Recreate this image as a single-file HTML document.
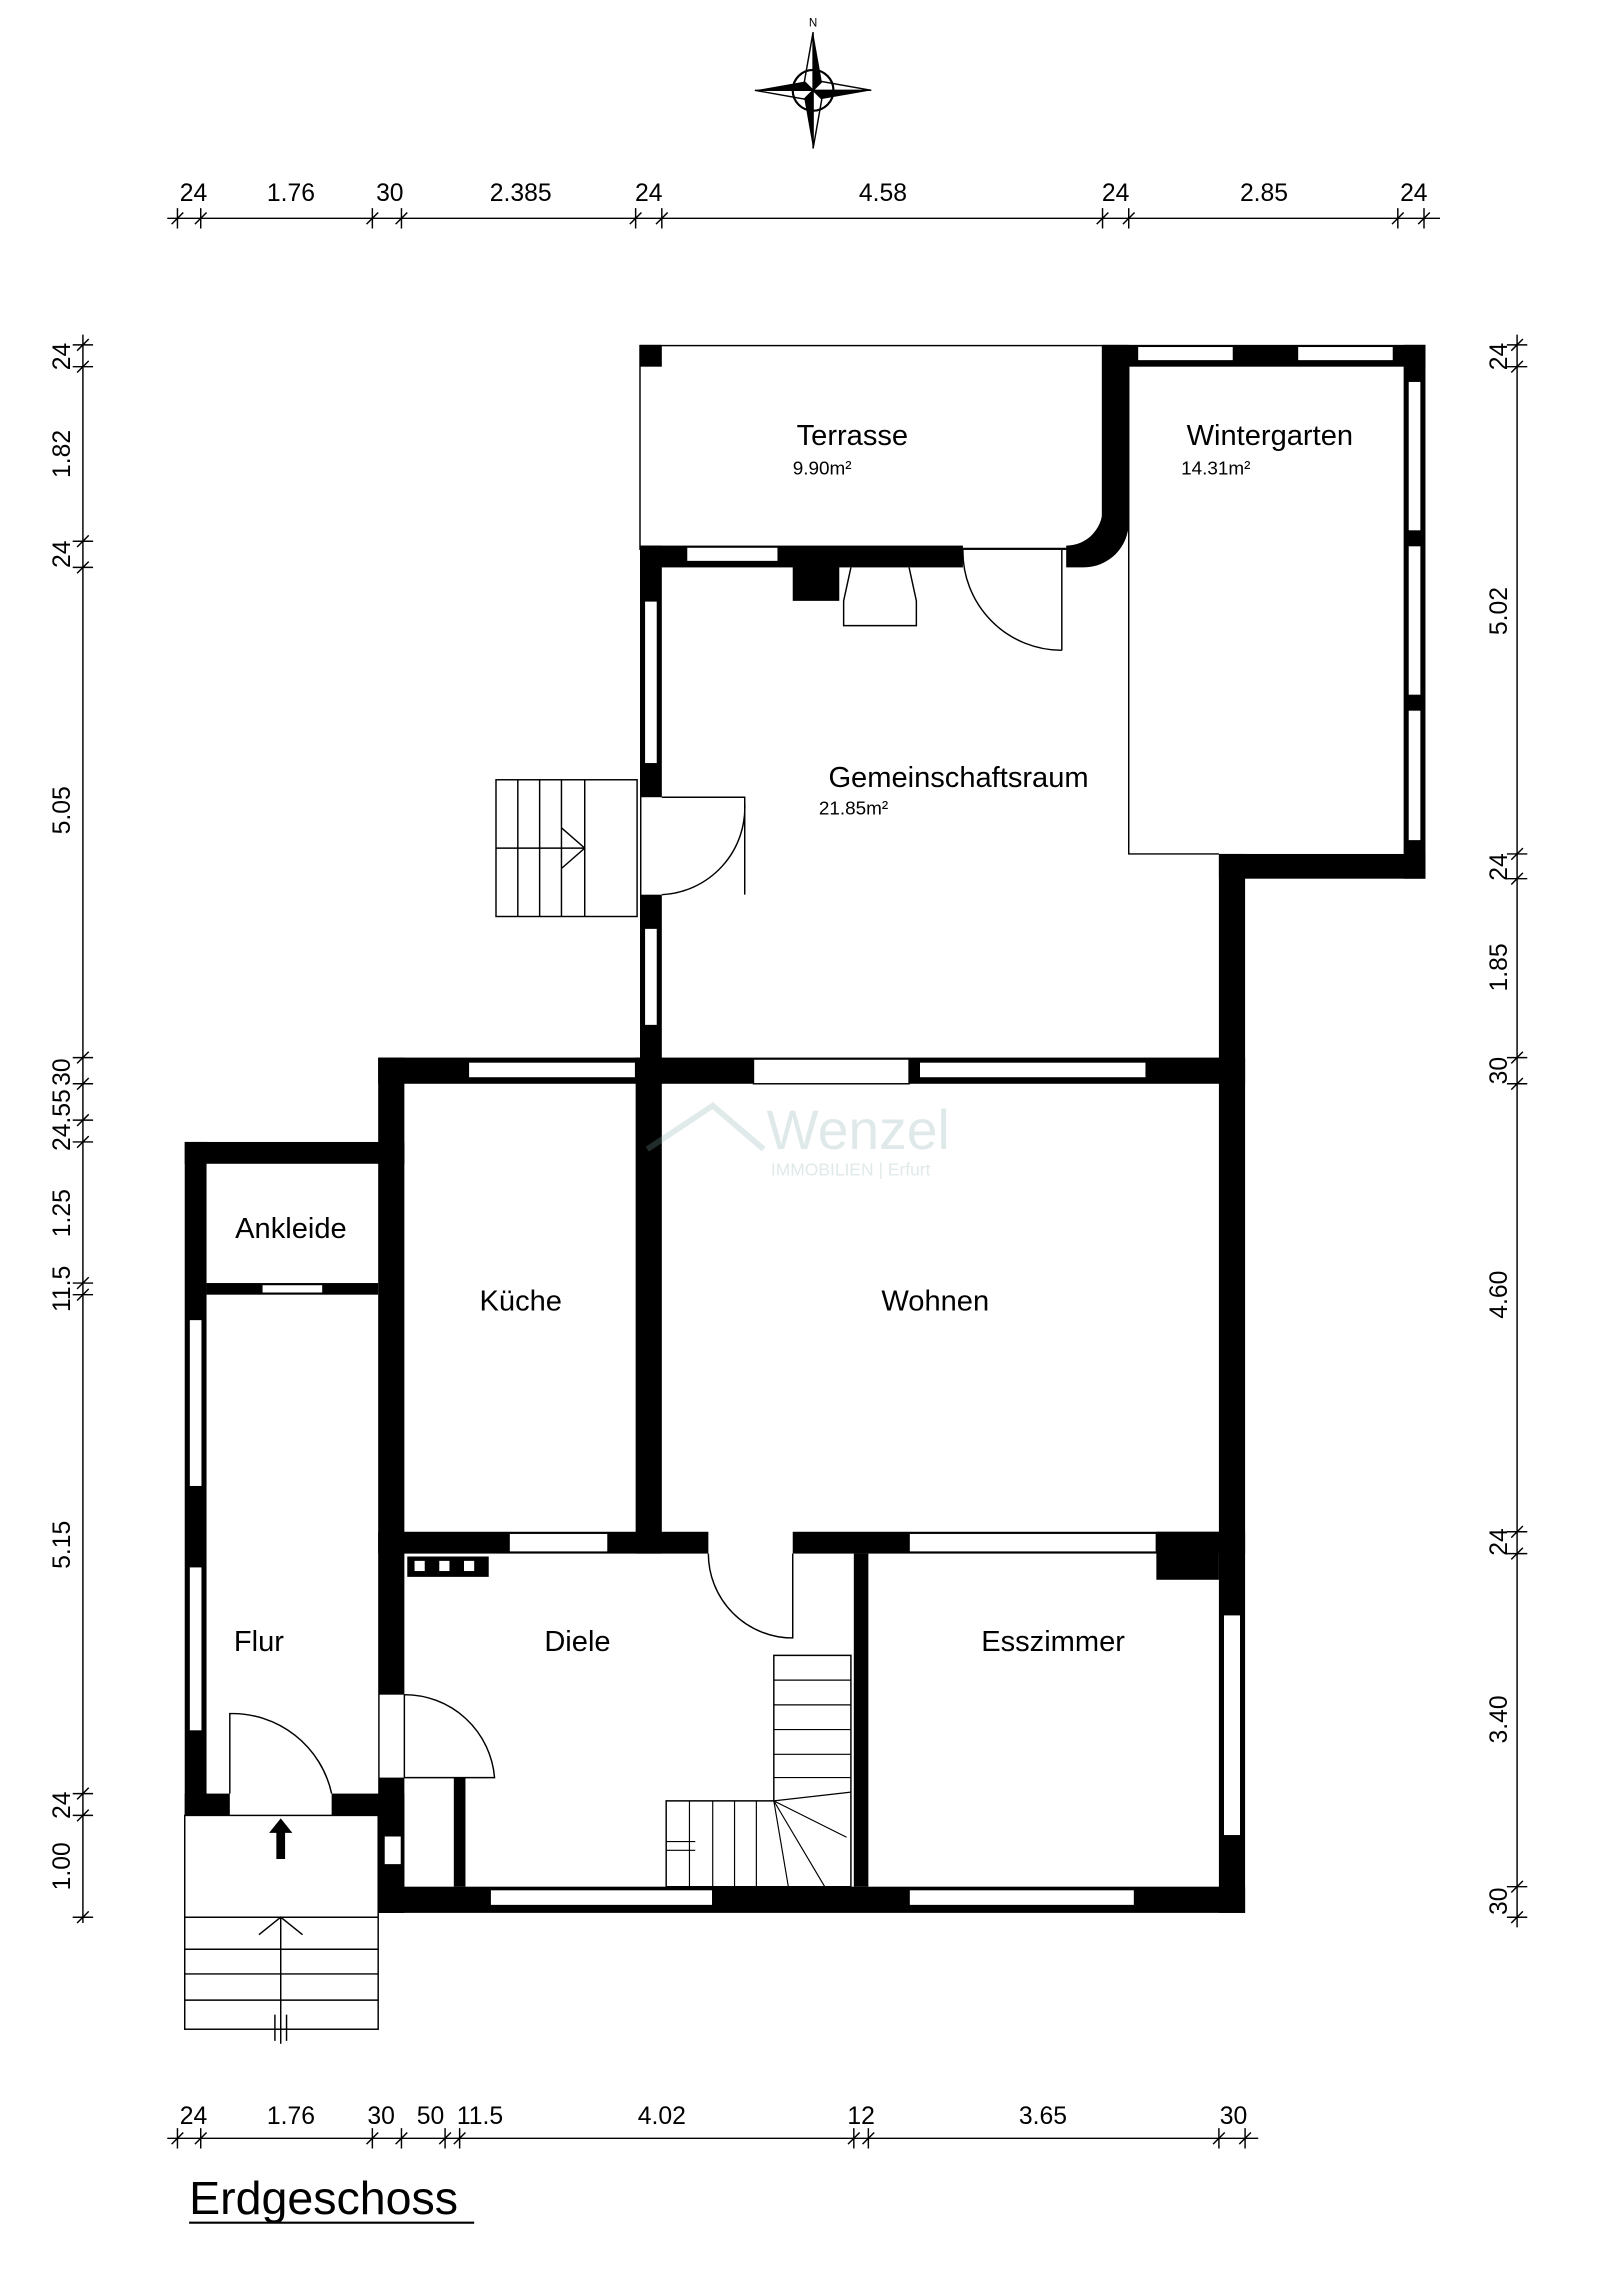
<!DOCTYPE html>
<html><head><meta charset="utf-8"><style>html,body{margin:0;padding:0;background:#fff}svg{display:block}</style></head>
<body>
<svg width="1600" height="2281" viewBox="0 0 1100 1568" xmlns="http://www.w3.org/2000/svg" font-family="Liberation Sans, sans-serif">
<rect width="1100" height="1568" fill="#fff"/>
<g transform="translate(559,62)">
<polygon points="0,-40 6,-6 0,0" fill="#000"/><polygon points="0,-40 -6,-6 0,0" fill="#fff" stroke="#000"/>
<polygon points="0,40 -6,6 0,0" fill="#000"/><polygon points="0,40 6,6 0,0" fill="#fff" stroke="#000"/>
<polygon points="40,0 6,6 0,0" fill="#000"/><polygon points="40,0 6,-6 0,0" fill="#fff" stroke="#000"/>
<polygon points="-40,0 -6,-6 0,0" fill="#000"/><polygon points="-40,0 -6,6 0,0" fill="#fff" stroke="#000"/>
<circle r="14" fill="none" stroke="#000" stroke-width="1.5"/>
<text x="0" y="-44" font-size="8" text-anchor="middle">N</text>
</g>
<g stroke="#000" stroke-width="1" fill="none">
<line x1="115" y1="150" x2="990" y2="150"/>
<path d="M122,143v14M138,143v14M256,143v14M276,143v14M437,143v14M455,143v14M758,143v14M776,143v14M961,143v14M979,143v14"/>
<path d="M118,154l8,-8M134,154l8,-8M252,154l8,-8M272,154l8,-8M433,154l8,-8M451,154l8,-8M754,154l8,-8M772,154l8,-8M957,154l8,-8M975,154l8,-8"/>
<line x1="115" y1="1470" x2="865" y2="1470"/>
<path d="M122,1463v14M138,1463v14M256,1463v14M276,1463v14M306,1463v14M316,1463v14M587,1463v14M597,1463v14M838,1463v14M856,1463v14"/>
<path d="M118,1474l8,-8M134,1474l8,-8M252,1474l8,-8M272,1474l8,-8M302,1474l8,-8M312,1474l8,-8M583,1474l8,-8M593,1474l8,-8M834,1474l8,-8M852,1474l8,-8"/>
<line x1="57" y1="230" x2="57" y2="1322"/>
<path d="M50,237h14M50,252h14M50,372h14M50,390h14M50,727h14M50,745h14M50,770h14M50,785h14M50,882h14M50,890h14M50,1233h14M50,1248h14M50,1318h14"/>
<path d="M53,241l8,-8M53,256l8,-8M53,376l8,-8M53,394l8,-8M53,731l8,-8M53,749l8,-8M53,774l8,-8M53,789l8,-8M53,886l8,-8M53,894l8,-8M53,1237l8,-8M53,1252l8,-8M53,1322l8,-8"/>
<line x1="1043" y1="230" x2="1043" y2="1325"/>
<path d="M1036,237h14M1036,252h14M1036,587h14M1036,604h14M1036,727h14M1036,745h14M1036,1053h14M1036,1068h14M1036,1297h14M1036,1318h14"/>
<path d="M1039,241l8,-8M1039,256l8,-8M1039,591l8,-8M1039,608l8,-8M1039,731l8,-8M1039,749l8,-8M1039,1057l8,-8M1039,1072l8,-8M1039,1301l8,-8M1039,1322l8,-8"/>
</g>
<g font-size="17" text-anchor="middle">
<text x="133" y="138">24</text><text x="200" y="138">1.76</text><text x="268" y="138">30</text><text x="358" y="138">2.385</text><text x="446" y="138">24</text><text x="607" y="138">4.58</text><text x="767" y="138">24</text><text x="869" y="138">2.85</text><text x="972" y="138">24</text>
<text x="133" y="1460">24</text><text x="200" y="1460">1.76</text><text x="262" y="1460">30</text><text x="296" y="1460">50</text><text x="330" y="1460">11.5</text><text x="455" y="1460">4.02</text><text x="592" y="1460">12</text><text x="717" y="1460">3.65</text><text x="848" y="1460">30</text>
</g>
<g font-size="17" text-anchor="middle">
<g transform="rotate(-90)">
<text x="-245" y="48">24</text><text x="-312" y="48">1.82</text><text x="-381" y="48">24</text><text x="-557" y="48">5.05</text><text x="-737" y="48">30</text><text x="-770" y="48">24.55</text><text x="-834" y="48">1.25</text><text x="-886" y="48">11.5</text><text x="-1062" y="48">5.15</text><text x="-1241" y="48">24</text><text x="-1283" y="48">1.00</text>
<text x="-245" y="1036">24</text><text x="-420" y="1036">5.02</text><text x="-596" y="1036">24</text><text x="-665" y="1036">1.85</text><text x="-736" y="1036">30</text><text x="-890" y="1036">4.60</text><text x="-1060" y="1036">24</text><text x="-1182" y="1036">3.40</text><text x="-1307" y="1036">30</text>
</g></g>
<rect x="440" y="237.5" width="318" height="140" fill="none" stroke="#000"/>
<g fill="#000">
<rect x="440" y="237" width="15" height="15"/>
<rect x="758" y="237" width="222" height="15"/>
<rect x="965" y="237" width="15" height="367"/>
<rect x="838" y="587" width="142" height="17"/>
<path d="M758,237V350A25,25 0 0 1 733,375V390H745A31,31 0 0 0 776,359V237Z"/>
<rect x="440" y="375" width="222" height="15"/>
<rect x="440" y="375" width="15" height="370"/>
<rect x="838" y="587" width="18" height="728"/>
<rect x="545" y="388" width="32" height="25"/>
<rect x="260" y="727" width="596" height="18"/>
<rect x="260" y="727" width="18" height="588"/>
<rect x="437" y="727" width="18" height="341"/>
<rect x="260" y="1053" width="596" height="15"/>
<rect x="587" y="1068" width="10" height="229"/>
<rect x="260" y="1297" width="596" height="18"/>
<rect x="795" y="1053" width="43" height="33"/>
<rect x="127" y="785" width="151" height="15"/>
<rect x="127" y="785" width="15" height="463"/>
<rect x="142" y="882" width="118" height="8"/>
<rect x="127" y="1233" width="151" height="15"/>
<rect x="260" y="1248" width="18" height="67"/>
<rect x="312" y="1222" width="8" height="75"/>
</g>
<g fill="#fff" stroke="#000" stroke-width="1">
<rect x="782" y="238" width="66" height="10"/><rect x="892" y="238" width="66" height="10"/>
<rect x="968" y="262" width="9" height="103"/><rect x="968" y="375" width="9" height="103"/><rect x="968" y="488" width="9" height="90"/>
<rect x="472" y="376" width="63" height="10"/>
<rect x="443" y="413" width="9" height="112"/><rect x="443" y="638" width="9" height="67"/>
<rect x="322" y="730" width="115" height="11"/><rect x="518" y="728" width="107" height="17"/><rect x="632" y="730" width="156" height="11"/>
<rect x="350" y="1054" width="68" height="13"/><rect x="625" y="1054" width="170" height="13"/>
<rect x="337" y="1299" width="153" height="11"/><rect x="625" y="1299" width="155" height="11"/>
<rect x="841" y="1110" width="12" height="152"/>
<rect x="130" y="907" width="9" height="115"/><rect x="130" y="1077" width="9" height="113"/>
<rect x="180" y="883" width="42" height="6"/>
<rect x="264" y="1262" width="12" height="20"/>
</g>
<g fill="#fff">
<rect x="441" y="548" width="16" height="67"/>
<rect x="487" y="1052" width="58" height="17"/><rect x="261" y="1165" width="18" height="57"/>
<rect x="158" y="1232" width="70" height="17"/>
</g>
<g fill="none" stroke="#000" stroke-width="1">
<path d="M776,252V587H838"/>
<path d="M662,377H733"/>
<path d="M585,390l-5,23v17h50v-17l-5,-23"/>
<path d="M730,378V447M730,447A68,68 0 0 1 662,378"/>
<path d="M455,548H512V615M455,615A60,60 0 0 0 512,552"/>
<path d="M545,1068V1126A58,58 0 0 1 487,1068"/>
<path d="M278,1165V1222H340A62,62 0 0 0 278,1165"/>
<path d="M158,1233V1178A70,70 0 0 1 228,1233"/>
<rect x="341" y="536" width="97" height="94"/>
<path d="M341,583h61M356,536v94M371,536v94M386,536v94M402,536v94M386,569l16,14l-16,14"/>
<path d="M532,1138H585V1297H458V1238H532Z"/>
<path d="M532,1155h53M532,1172h53M532,1189h53M532,1206h53M532,1222h53M532,1238l53,-6M532,1238l50,25M532,1238l35,59M532,1238l10,59M520,1238v59M505,1238v59M490,1238v59M474,1238v59M458,1266h20M458,1272h20" stroke-width="0.8"/>
<rect x="127" y="1248" width="133" height="147"/>
<path d="M127,1318h133M127,1340h133M127,1357h133M127,1375h133M193,1318v87M178,1330l15,-12l15,12M189,1385v18M197,1385v18"/>
</g>
<path d="M193,1250l-8,10h5v18h6v-18h5z" fill="#000"/>
<rect x="280" y="1070" width="56" height="14" fill="#000"/>
<g fill="#fff"><rect x="285" y="1073" width="7" height="7"/><rect x="302" y="1073" width="7" height="7"/><rect x="319" y="1073" width="7" height="7"/></g>
<g opacity="0.25" fill="#8aa">
<text x="527" y="790" font-size="38">Wenzel</text>
<text x="530" y="808" font-size="12">IMMOBILIEN | Erfurt</text>
<path d="M445,790 L490,760 L525,790" fill="none" stroke="#8aa" stroke-width="4"/>
</g>
<g font-size="20" text-anchor="middle">
<text x="586" y="306">Terrasse</text><text x="873" y="306">Wintergarten</text>
<text x="659" y="541">Gemeinschaftsraum</text>
<text x="200" y="851">Ankleide</text><text x="358" y="901">Küche</text><text x="643" y="901">Wohnen</text>
<text x="178" y="1135">Flur</text><text x="397" y="1135">Diele</text><text x="724" y="1135">Esszimmer</text>
</g>
<g font-size="13"><text x="545" y="326">9.90m²</text><text x="812" y="326">14.31m²</text><text x="563" y="560">21.85m²</text></g>
<text x="130" y="1522" font-size="32">Erdgeschoss</text>
<line x1="130" y1="1528" x2="326" y2="1528" stroke="#000" stroke-width="1.5"/>
</svg>
</body></html>
